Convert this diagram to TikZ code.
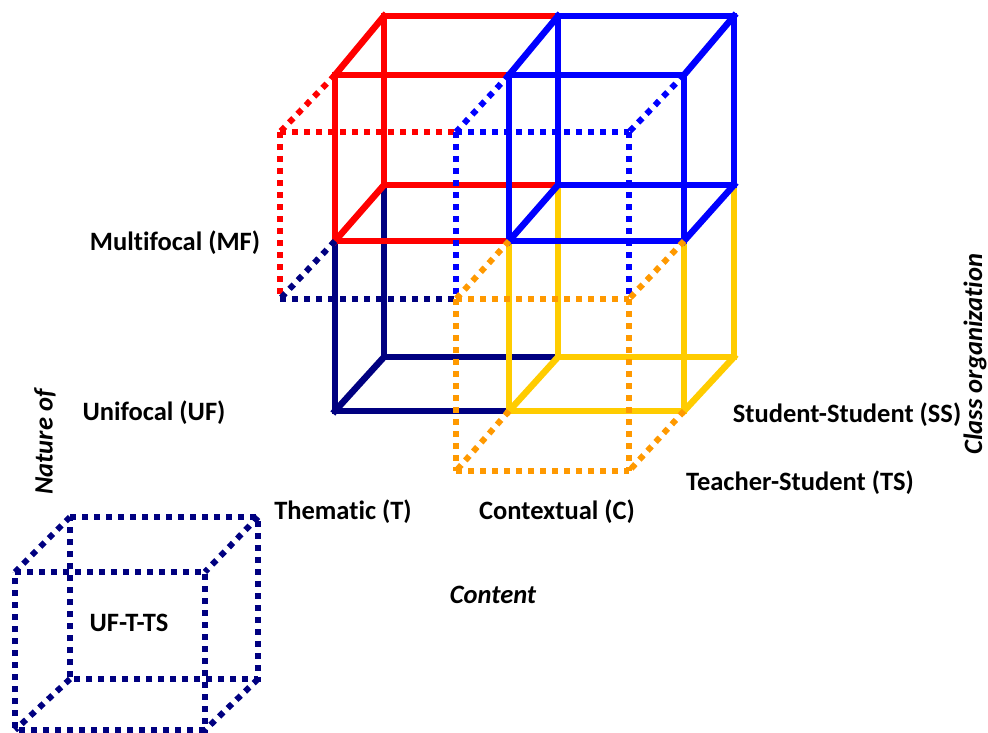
\documentclass[tikz,border=0pt]{standalone}
\usepackage{fontspec}
\setmainfont{Carlito}[Ligatures=NoCommon]
\begin{document}
\begin{tikzpicture}[x=1pt,y=-1pt,
  solid line/.style={line width=6.5pt,line join=miter,line cap=rect},
  dotline/.style={line width=6pt,dash pattern=on 6pt off 6pt,line cap=butt},
  lbl/.style={font=\fontsize{26.5}{30}\selectfont\bfseries,inner sep=0pt},
  axis/.style={font=\fontsize{26.5}{30}\selectfont\bfseries\itshape,inner sep=0pt}]
\definecolor{cred}{HTML}{FF0000}
\definecolor{cblue}{HTML}{0000FF}
\definecolor{cnavy}{HTML}{000080}
\definecolor{cgold}{HTML}{FFCC00}
\definecolor{corange}{HTML}{FF9900}
\useasboundingbox (0,0) rectangle (988,733);
% back layer
\coordinate (B00) at (384,16);  \coordinate (B10) at (558,16);  \coordinate (B20) at (734,16);
\coordinate (B01) at (384,185); \coordinate (B11) at (558,185); \coordinate (B21) at (734,185);
\coordinate (B02) at (384,357); \coordinate (B12) at (558,357); \coordinate (B22) at (734,357);
% middle layer
\coordinate (M00) at (335,75);  \coordinate (M10) at (509,75);  \coordinate (M20) at (684,75);
\coordinate (M01) at (335,241); \coordinate (M11) at (509,241); \coordinate (M21) at (684,241);
\coordinate (M02) at (335,411); \coordinate (M12) at (509,411); \coordinate (M22) at (684,411);
% front layer
\coordinate (F00) at (280,132); \coordinate (F10) at (456,132); \coordinate (F20) at (629,132);
\coordinate (F01) at (280,299); \coordinate (F11) at (456,299); \coordinate (F21) at (629,299);
\coordinate (F02) at (280,471); \coordinate (F12) at (456,471); \coordinate (F22) at (629,471);
% navy cube
\draw[solid line,cnavy] (B01) -- (B02) -- (B12);
\draw[solid line,cnavy] (M01) -- (M02) -- (M12);
\draw[solid line,cnavy] (B02) -- (M02);
% yellow cube
\draw[solid line,cgold] (B11) -- (B12) -- (B22) -- (B21);
\draw[solid line,cgold] (M11) -- (M12) -- (M22) -- (M21);
\draw[solid line,cgold] (B12) -- (M12);
\draw[solid line,cgold] (B22) -- (M22);
% red cube
\draw[solid line,cred] (B00) -- (B10) -- (B11) -- (B01) -- cycle;
\draw[solid line,cred] (M00) -- (M10) -- (M11) -- (M01) -- cycle;
\draw[solid line,cred] (B00) -- (M00);
\draw[solid line,cred] (B01) -- (M01);
% blue cube
\draw[solid line,cblue] (B10) -- (B20) -- (B21) -- (B11) -- cycle;
\draw[solid line,cblue] (M10) -- (M20) -- (M21) -- (M11) -- cycle;
\draw[solid line,cblue] (B10) -- (M10);
\draw[solid line,cblue] (B20) -- (M20);
\draw[solid line,cblue] (B11) -- (M11);
\draw[solid line,cblue] (B21) -- (M21);
% dotted front layer
\draw[dotline,cred] (M00) -- (F00);
\draw[dotline,cred] (F00) -- (F10);
\draw[dotline,cred] (F00) -- (F01);
\draw[dotline,cblue] (M10) -- (F10);
\draw[dotline,cblue] (F10) -- (F20);
\draw[dotline,cblue] (F10) -- (F11);
\draw[dotline,cblue] (M20) -- (F20);
\draw[dotline,cblue] (F20) -- (F21);
\draw[dotline,cnavy] (M01) -- (F01);
\draw[dotline,cnavy] (F01) -- (F11);
\draw[dotline,corange] (M11) -- (F11);
\draw[dotline,corange] (F11) -- (F21);
\draw[dotline,corange] (F11) -- (F12);
\draw[dotline,corange] (F21) -- (F22);
\draw[dotline,corange] (F12) -- (F22);
\draw[dotline,corange] (M12) -- (F12);
\draw[dotline,corange] (M22) -- (F22);
\draw[dotline,corange] (M21) -- (F21);
% small cube
\coordinate (s1) at (70,517);  \coordinate (s2) at (258,517);
\coordinate (s3) at (258,679); \coordinate (s4) at (70,679);
\coordinate (t1) at (15,572);  \coordinate (t2) at (205,572);
\coordinate (t3) at (205,730); \coordinate (t4) at (15,730);
\draw[dotline,cnavy] (s1) -- (s2) -- (s3) -- (s4) -- cycle;
\draw[dotline,cnavy] (t1) -- (t2) -- (t3) -- (t4) -- cycle;
\draw[dotline,cnavy] (s1) -- (t1);
\draw[dotline,cnavy] (s2) -- (t2);
\draw[dotline,cnavy] (s3) -- (t3);
\draw[dotline,cnavy] (s4) -- (t4);
\node[lbl] (uftts) at (129,623) {UF-T-TS};
% labels
\node[lbl] (mf) at (175,243) {Multifocal (MF)};
\node[lbl] (uf) at (154,413) {Unifocal (UF)};
\node[lbl] (th) at (343,512) {Themat\kern0pt ic (T)};
\node[lbl] (cx) at (557,512) {Contextual (C)};
\node[lbl] (ss) at (847,415) {Student-Student (SS)};
\node[lbl] (ts) at (800,483) {Teacher-Student (TS)};
\node[axis] (content) at (493,595) {Content};
\node[axis,rotate=90] (nature) at (45,442) {Nature of};
\node[axis,rotate=90] (classorg) at (975,354) {Class organizat\kern0pt ion};
\end{tikzpicture}
\end{document}
